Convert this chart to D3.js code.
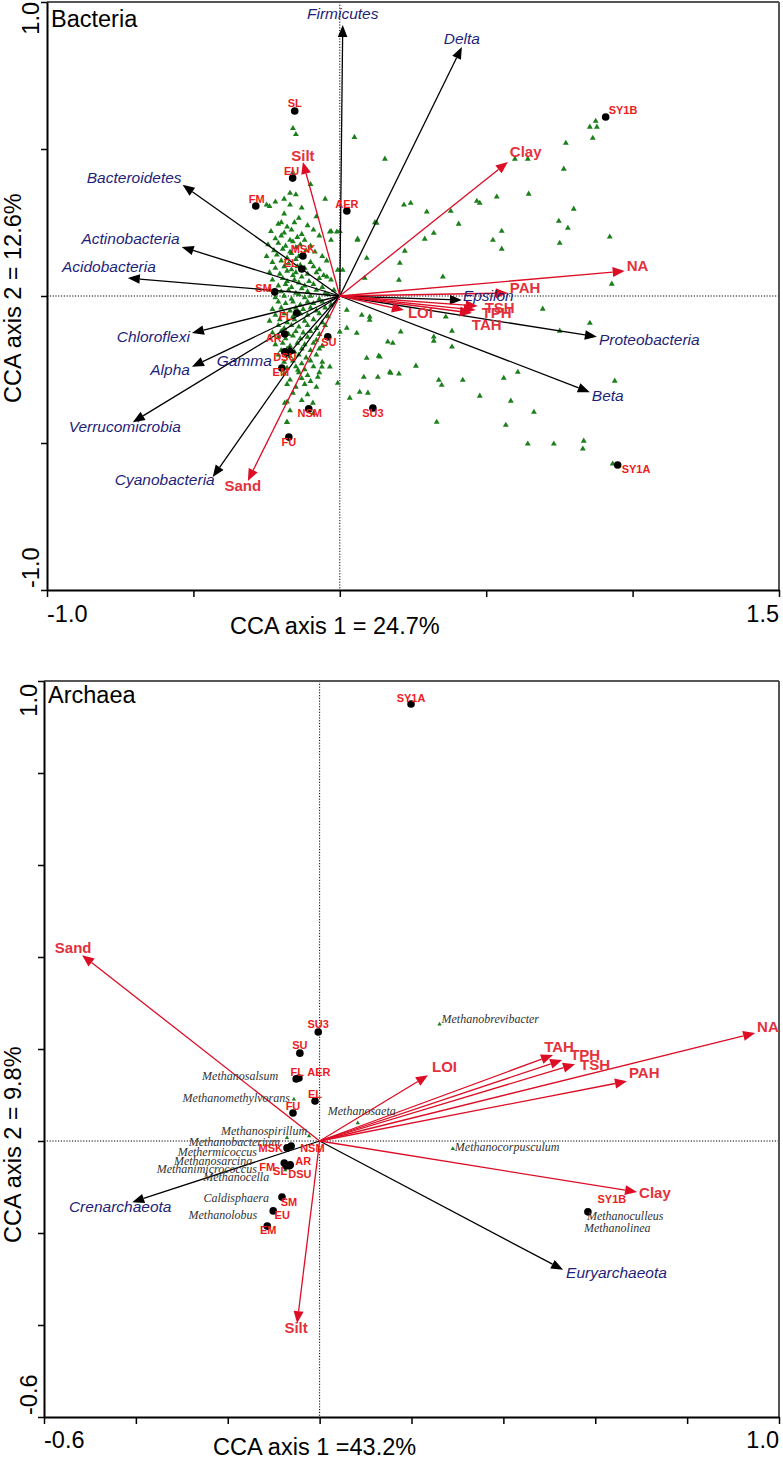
<!DOCTYPE html>
<html><head><meta charset="utf-8">
<script src="https://cdn.jsdelivr.net/npm/d3@7"></script>
<style>body{margin:0;background:#fff}svg{display:block}</style>
</head><body>
<svg id="c" width="783" height="1459"></svg>
<script>
// ================= DATA : Bacteria =================
const bacTaxa = [
  ["Firmicutes",0.010,0.922],["Delta",0.417,0.847],["Bacteroidetes",-0.537,0.378],
  ["Actinobacteria",-0.540,0.167],["Acidobacteria",-0.724,0.061],["Chloroflexi",-0.505,-0.126],
  ["Alpha",-0.505,-0.241],["Gamma",-0.188,-0.211],["Verrucomicrobia",-0.707,-0.429],
  ["Cyanobacteria",-0.434,-0.616],["Epsilon",0.417,-0.014],["Proteobacteria",0.878,-0.139],
  ["Beta",0.854,-0.327]
];
const bacEnv = [
  ["Silt",-0.126,0.456],["Clay",0.574,0.456],["NA",0.973,0.085],["PAH",0.574,0.010],
  ["TSH",0.471,-0.034],["TPH",0.464,-0.048],["TAH",0.451,-0.058],["LOI",0.219,-0.048],
  ["Sand",-0.314,-0.629]
];
const bacSites = [
  ["SL",-0.154,0.629],["EU",-0.161,0.401],["FM",-0.287,0.306],["AER",0.024,0.289],
  ["MSK",-0.126,0.136],["EL",-0.130,0.092],["SM",-0.222,0.014],["FL",-0.147,-0.058],
  ["AR",-0.188,-0.129],["DSU",-0.188,-0.190],["EM",-0.198,-0.245],["SU",-0.041,-0.139],
  ["NSM",-0.106,-0.384],["SU3",0.113,-0.381],["FU",-0.174,-0.480],["SY1B",0.908,0.609],
  ["SY1A",0.949,-0.575]
];
const bacSpeciesCore = [
  [-0.16,0.57],[-0.15,0.55],[0.05,0.54],[-0.16,0.42],[-0.10,0.38],[-0.17,0.35],[-0.15,0.345],[-0.19,0.33],
  [-0.22,0.32],[-0.25,0.31],[-0.24,0.305],[-0.05,0.33],[-0.08,0.27],[-0.19,0.28],[-0.03,0.22],[0.00,0.22],
  [-0.03,0.19],[0.06,0.19],[0.12,0.25],[-0.17,0.31],[-0.13,0.30],[-0.20,0.25],[-0.14,0.265],
  [-0.21,0.245],[-0.18,0.235],[-0.155,0.25],[-0.11,0.24],
  [-0.235,0.22],[-0.19,0.215],[-0.165,0.225],[-0.13,0.21],[-0.09,0.225],
  [-0.22,0.195],[-0.20,0.205],[-0.17,0.19],[-0.145,0.20],[-0.12,0.19],[-0.07,0.205],
  [-0.245,0.175],[-0.21,0.18],[-0.185,0.17],[-0.16,0.185],[-0.135,0.175],[-0.10,0.17],
  [-0.225,0.155],[-0.195,0.16],[-0.17,0.15],[-0.15,0.165],[-0.115,0.155],[-0.085,0.15],
  [-0.25,0.135],[-0.215,0.14],[-0.18,0.13],[-0.165,0.145],[-0.14,0.135],[-0.125,0.14],[-0.06,0.135],
  [-0.23,0.115],[-0.20,0.12],[-0.175,0.11],[-0.15,0.125],[-0.135,0.105],[-0.10,0.115],[-0.045,0.12],
  [-0.22,0.095],[-0.19,0.10],[-0.165,0.09],[-0.145,0.10],[-0.12,0.095],[-0.09,0.10],[-0.07,0.09],
  [-0.24,0.08],[-0.205,0.075],[-0.18,0.085],[-0.16,0.07],[-0.15,0.08],[-0.11,0.075],[-0.08,0.08],[-0.055,0.07],
  [-0.23,0.055],[-0.195,0.06],[-0.18,0.05],[-0.155,0.055],[-0.13,0.065],[-0.105,0.05],[-0.07,0.06],[-0.03,0.055],
  [-0.21,0.035],[-0.185,0.04],[-0.165,0.03],[-0.14,0.045],[-0.12,0.035],[-0.09,0.04],[-0.06,0.03],
  [-0.24,0.02],[-0.20,0.015],[-0.175,0.02],[-0.15,0.01],[-0.13,0.025],[-0.11,0.015],[-0.08,0.02],[-0.05,0.01],[-0.02,0.02],
  [-0.22,-0.005],[-0.19,0.00],[-0.165,-0.01],[-0.14,0.005],[-0.12,-0.005],[-0.10,0.00],[-0.07,-0.01],[-0.04,0.005],
  [-0.21,-0.02],[-0.185,-0.025],[-0.16,-0.02],[-0.135,-0.03],[-0.11,-0.02],[-0.09,-0.025],[-0.06,-0.02],[-0.03,-0.03],
  [-0.23,-0.045],[-0.20,-0.04],[-0.17,-0.05],[-0.15,-0.04],[-0.125,-0.045],[-0.10,-0.04],[-0.08,-0.05],[-0.05,-0.04],
  [-0.22,-0.065],[-0.19,-0.06],[-0.16,-0.07],[-0.135,-0.06],[-0.11,-0.065],[-0.07,-0.06],[-0.04,-0.07],
  [-0.24,-0.085],[-0.205,-0.08],[-0.18,-0.09],[-0.155,-0.08],[-0.12,-0.085],[-0.09,-0.08],[-0.06,-0.09],
  [-0.21,-0.10],[-0.19,-0.11],[-0.165,-0.10],[-0.14,-0.105],[-0.11,-0.10],[-0.08,-0.11],[-0.05,-0.10],
  [-0.23,-0.125],[-0.20,-0.12],[-0.175,-0.13],[-0.15,-0.12],[-0.125,-0.125],[-0.10,-0.12],[-0.07,-0.13],
  [-0.21,-0.14],[-0.185,-0.145],[-0.16,-0.135],[-0.135,-0.145],[-0.11,-0.14],[-0.08,-0.15],
  [-0.22,-0.165],[-0.195,-0.16],[-0.17,-0.17],[-0.145,-0.16],[-0.12,-0.165],[-0.09,-0.16],[-0.06,-0.17],
  [-0.20,-0.185],[-0.18,-0.18],[-0.155,-0.19],[-0.13,-0.18],[-0.10,-0.185],[-0.07,-0.18],
  [-0.21,-0.20],[-0.17,-0.205],[-0.14,-0.20],[-0.115,-0.21],[-0.08,-0.20],
  [-0.19,-0.225],[-0.16,-0.22],[-0.13,-0.23],[-0.10,-0.22],[-0.06,-0.225],
  [-0.18,-0.245],[-0.15,-0.24],[-0.12,-0.25],[-0.09,-0.24],
  [-0.19,-0.265],[-0.14,-0.26],[-0.11,-0.27],[-0.07,-0.26],
  [-0.17,-0.285],[-0.13,-0.28],[-0.10,-0.29],
  [-0.18,-0.30],[-0.15,-0.31],[-0.12,-0.30],[-0.08,-0.31],
  [-0.16,-0.33],[-0.11,-0.335],[-0.18,-0.36],[-0.13,-0.355],
  [-0.17,-0.39],[-0.11,-0.385],[-0.09,-0.40],[-0.18,-0.43]
];
const bacSpeciesOuter = [
  [0.154,0.466],[0.598,0.466],[0.642,0.466],[0.772,0.520],[0.854,0.575],[0.878,0.575],[0.874,0.595],[0.864,0.537],
  [0.765,0.432],[0.219,0.310],[0.242,0.316],[0.297,0.286],[0.379,0.289],[0.468,0.323],[0.478,0.316],[0.536,0.337],
  [0.645,0.347],[0.799,0.296],[0.406,0.245],[0.321,0.214],[0.290,0.194],[0.553,0.221],[0.523,0.190],[0.553,0.160],
  [0.748,0.255],[0.779,0.231],[0.751,0.180],[0.922,0.201],[0.222,0.153],[0.205,0.112],[0.202,0.054],[0.352,0.065],
  [0.929,0.041],[0.693,-0.044],[0.854,-0.092],[0.751,-0.119],[0.208,-0.122],[0.383,-0.119],[0.321,-0.139],[0.321,-0.153],
  [0.164,-0.156],[0.181,-0.160],[0.383,-0.173],[0.137,-0.207],[0.260,-0.238],[0.174,-0.262],[0.202,-0.265],[0.338,-0.286],
  [0.348,-0.303],[0.420,-0.286],[0.560,-0.279],[0.608,-0.259],[0.939,-0.289],[0.478,-0.340],[0.584,-0.357],[0.663,-0.395],
  [0.331,-0.429],[0.567,-0.439],[0.642,-0.503],[0.731,-0.503],[0.833,-0.493],[0.830,-0.520],[0.932,-0.571],[0.362,-0.071],
  [0.058,-0.126],[0.092,-0.211],[0.133,-0.204],[0.171,-0.259],[0.034,-0.347],[0.068,-0.327],[0.096,-0.330],[0.082,-0.276],
  [0.130,-0.276],[-0.007,-0.296],[-0.034,-0.241],[-0.061,-0.241],[-0.075,-0.276],[-0.092,-0.364],[-0.181,-0.429],[-0.188,-0.364],
  [-0.143,-0.252],[0.061,0.194],[0.092,0.129],[0.075,-0.065],[0.102,-0.082],[0.024,-0.048],[0.024,-0.109],[0.126,0.248],
  [-0.034,0.218],[-0.010,0.218],[0.010,0.088],[-0.007,0.088],[0.085,0.061],[-0.044,0.065],[0.102,-0.071],[0.000,-0.122]
];

// ================= DATA : Archaea =================
const arcTaxa = [["Crenarchaeota",-0.408,-0.133],["Euryarchaeota",0.530,-0.280]];
const arcEnv = [
  ["Sand",-0.517,0.404],["Silt",-0.049,-0.396],["LOI",0.236,0.143],["TAH",0.508,0.187],
  ["TPH",0.528,0.176],["TSH",0.556,0.167],["PAH",0.669,0.130],["NA",0.948,0.235],["Clay",0.691,-0.111]
];
const arcSites = [
  ["SY1A",0.199,0.950],["SU3",-0.003,0.237],["SU",-0.043,0.191],["FL",-0.051,0.135],["AER",-0.045,0.137],
  ["EL",-0.010,0.087],["FU",-0.058,0.061],["MSK",-0.071,-0.015],["NSM",-0.062,-0.011],["AR",-0.064,-0.052],
  ["FM",-0.077,-0.048],["SL",-0.073,-0.054],["DSU",-0.066,-0.054],["SM",-0.082,-0.122],["EU",-0.101,-0.152],
  ["EM",-0.114,-0.185],["SY1B",0.584,-0.154]
];
const arcSpecies = [
  ["Methanobrevibacter",0.261,0.254],["Methanosalsum",-0.049,0.133],["Methanomethylvorans",-0.056,0.091],
  ["Methanosaeta",0.083,0.039],["Methanospirillum",-0.023,0.011],["Methanobacterium",-0.071,0.007],
  ["Methermicoccus",-0.071,-0.020],["Methanosarcina",-0.075,-0.046],["Methanimicrococcus",-0.067,-0.052],
  ["Methanocella",-0.075,-0.063],["Caldisphaera",-0.082,-0.120],["Methanolobus",-0.101,-0.152],
  ["Methanocorpusculum",0.290,-0.017],["Methanoculleus",0.584,-0.157],["Methanolinea",0.584,-0.157]
];

// ================= LAYOUT (label anchor, dx, dy in px) =================
const bacTaxaLab = {Firmicutes:["middle",0,-6],Delta:["middle",0,-3],Bacteroidetes:["end",-1,-2],
  Actinobacteria:["end",-2,-3],Acidobacteria:["end",28,-6],Chloroflexi:["end",-2,9],Alpha:["end",-2,8],
  Gamma:["end",-13,8],Verrucomicrobia:["middle",-8,10],Cyanobacteria:["end",2,8],Epsilon:["start",1,1],
  Proteobacteria:["start",2,8],Beta:["start",2,9]};
const bacEnvLab = {Silt:["middle",0,-1],Clay:["start",2,-5],NA:["start",2,0],PAH:["start",2,0],
  TSH:["start",7,7],TPH:["start",6,8],TAH:["start",0,17],LOI:["start",4,8],Sand:["middle",-5,10]};
const bacSiteLab = {SL:["middle",0,-4],EU:["middle",-1,-3],FM:["middle",1,-3],AER:["middle",0,-3],
  MSK:["middle",0,-3],EL:["middle",-11,-2],SM:["end",-3,0],FL:["middle",-11,7],AR:["end",-3,8],
  DSU:["middle",0,9],EM:["middle",-1,8],SU:["middle",1,9],NSM:["middle",1,8],SU3:["middle",0,9],
  FU:["middle",0,9],SY1B:["start",3,-3],SY1A:["start",4,8]};
const arcTaxaLab = {Crenarchaeota:["middle",-12,10],Euryarchaeota:["start",3,8]};
const arcEnvLab = {Sand:["middle",-9,-2],Silt:["middle",-1,10],LOI:["start",4,-3],TAH:["middle",6,-3],
  TPH:["start",8,0],TSH:["start",5,6],PAH:["start",2,-3],NA:["start",2,-1],Clay:["start",2,6]};
const arcSiteLab = {SY1A:["middle",0,-2],SU3:["middle",0,-4],SU:["middle",0,-4],FL:["middle",1,-3],
  AER:["middle",20,-2],EL:["middle",0,-3],FU:["middle",0,-3],MSK:["end",-4,4],NSM:["start",9,6],
  AR:["start",5,0],FM:["end",-9,8],SL:["middle",-6,9],DSU:["start",-1,12],SM:["middle",7,9],
  EU:["middle",9,8],EM:["middle",1,8],SY1B:["middle",24,-9]};
const arcSpecLab = {Methanobrevibacter:["start",2,-1],Methanosalsum:["end",-19,0],Methanomethylvorans:["end",-4,3],
  Methanosaeta:["start",-30,-8],Methanospirillum:["end",-2,-1],Methanobacterium:["end",-7,8],
  Methermicoccus:["end",-30,6],Methanosarcina:["end",-33,3],Methanimicrococcus:["end",-32,8],
  Methanocella:["end",-16,11],Caldisphaera:["end",-13,6],Methanolobus:["end",-16,8],
  Methanocorpusculum:["start",2,2],Methanoculleus:["start",-1,7],Methanolinea:["start",-4,19]};

// ================= DRAWING =================
const SANS = "'Liberation Sans', Arial, Helvetica, sans-serif";
const SERIF = "'Liberation Serif', 'Times New Roman', serif";
const RED = "#dc0d25", RED_TXT = "#e3323c", SITE_RED = "#ee1c1c", NAVY = "#1f1f7a", GREEN = "#1b7f1b";
const svg = d3.select("#c");

function arrow(g, x0, y0, x1, y1, color, hl, hw) {
  const dx = x1 - x0, dy = y1 - y0, L = Math.hypot(dx, dy), ux = dx / L, uy = dy / L;
  const bx = x1 - ux * hl, by = y1 - uy * hl;
  g.append("line").attr("x1", x0).attr("y1", y0).attr("x2", bx).attr("y2", by)
    .attr("stroke", color).attr("stroke-width", 1.3);
  g.append("path").attr("d", `M${x1},${y1}L${bx - uy * hw},${by + ux * hw}L${bx + uy * hw},${by - ux * hw}Z`)
    .attr("fill", color);
}
function label(g, x, y, txt, lay, style) {
  const t = g.append("text").attr("x", x + lay[1]).attr("y", y + lay[2]).attr("text-anchor", lay[0]).text(txt);
  for (const k in style) t.attr(k, style[k]);
  return t;
}

function panel(o) {
  const g = svg.append("g");
  const x = d3.scaleLinear().domain(o.xd).range([o.left, o.right]);
  const y = d3.scaleLinear().domain(o.yd).range([o.bottom, o.top]);
  g.append("line").attr("x1", x(0)).attr("x2", x(0)).attr("y1", o.top).attr("y2", o.bottom)
    .attr("stroke", "#000").attr("stroke-width", 1).attr("stroke-dasharray", "1.2,1.6");
  g.append("line").attr("x1", o.left).attr("x2", o.right).attr("y1", y(0)).attr("y2", y(0))
    .attr("stroke", "#000").attr("stroke-width", 1).attr("stroke-dasharray", "1.2,1.6");
  g.append("line").attr("x1", o.left).attr("x2", o.right).attr("y1", o.top).attr("y2", o.top).attr("stroke", "#555").attr("stroke-width", 2);
  g.append("line").attr("x1", o.right).attr("x2", o.right).attr("y1", o.top).attr("y2", o.bottom).attr("stroke", "#555").attr("stroke-width", 2);
  const ax = g.append("g").attr("transform", `translate(0,${o.bottom})`)
    .call(d3.axisBottom(x).tickValues(o.xt).tickSize(7).tickSizeOuter(0).tickFormat(""));
  const ay = g.append("g").attr("transform", `translate(${o.left},0)`)
    .call(d3.axisLeft(y).tickValues(o.yt).tickSize(6).tickSizeOuter(0).tickFormat(""));
  [ax, ay].forEach(a => { a.select(".domain").attr("stroke", "#000").attr("stroke-width", 2);
    a.selectAll(".tick line").attr("stroke", "#000").attr("stroke-width", 1.5); });
  const big = {"font-family": SANS, "font-size": "23.5px", fill: "#000"};
  label(g, x(o.xd[0]), o.xlabY, o.xtl[0], ["start", 0, 0], big);
  label(g, x(o.xd[1]), o.xlabY, o.xtl[1], ["end", 0, 0], big);
  g.append("text").attr("transform", `translate(${o.ylabX},${y(o.yd[1]) + o.yEndPad}) rotate(-90)`)
    .attr("text-anchor", "end").text(o.ytl[1]).attr("font-family", SANS).attr("font-size", "23.5px");
  g.append("text").attr("transform", `translate(${o.ylabX},${y(o.yd[0]) - 2}) rotate(-90)`)
    .attr("text-anchor", "start").text(o.ytl[0]).attr("font-family", SANS).attr("font-size", "23.5px");
  label(g, o.xTitleX, o.xTitleY, o.xTitle, ["start", 0, 0], big);
  g.append("text").attr("transform", `translate(21,${o.yTitleStart}) rotate(-90)`)
    .attr("text-anchor", "start").text(o.yTitle).attr("font-family", SANS).attr("font-size", "23.5px");
  label(g, o.left + 4, o.nameY, o.name, ["start", 0, 0], big);

  const x0 = x(0), y0 = y(0);
  const tri = d3.symbol().type(d3.symbolTriangle).size(o.triSize);
  g.append("g").selectAll("path").data(o.species).join("path")
    .attr("d", tri).attr("fill", GREEN)
    .attr("transform", d => `translate(${x(d[d.length - 2])},${y(d[d.length - 1])})`);
  o.taxa.forEach(d => arrow(g, x0, y0, x(d[1]), y(d[2]), "#000", 12, 4.8));
  o.env.forEach(d => arrow(g, x0, y0, x(d[1]), y(d[2]), RED, 12, 5));
  g.append("g").selectAll("circle").data(o.sites).join("circle")
    .attr("cx", d => x(d[1])).attr("cy", d => y(d[2])).attr("r", 3.8).attr("fill", "#000");
  if (o.specLab) o.species.forEach(d => label(g, x(d[1]), y(d[2]), d[0], o.specLab[d[0]],
    {"font-family": SERIF, "font-style": "italic", "font-size": "12px", fill: "#333"}));
  o.taxa.forEach(d => label(g, x(d[1]), y(d[2]), d[0], o.taxaLab[d[0]],
    {"font-family": SANS, "font-style": "italic", "font-size": "15.5px", fill: NAVY}));
  o.env.forEach(d => label(g, x(d[1]), y(d[2]), d[0], o.envLab[d[0]],
    {"font-family": SANS, "font-weight": "bold", "font-size": "15px", fill: RED_TXT}));
  o.sites.forEach(d => label(g, x(d[1]), y(d[2]), d[0], o.siteLab[d[0]],
    {"font-family": SANS, "font-weight": "bold", "font-size": "11px", fill: SITE_RED}));
}

panel({
  name: "Bacteria", nameY: 27,
  left: 47, right: 779, top: 2, bottom: 590,
  xd: [-1, 1.5], yd: [-1, 1],
  xt: [-1, -0.5, 0, 0.5, 1, 1.5], yt: [-1, -0.5, 0, 0.5, 1],
  xtl: ["-1.0", "1.5"], ytl: ["-1.0", "1.0"],
  xlabY: 622, ylabX: 39, yEndPad: 0,
  xTitle: "CCA axis 1 = 24.7%", xTitleX: 230, xTitleY: 634,
  yTitle: "CCA axis 2 = 12.6%", yTitleStart: 403,
  species: bacSpeciesCore.concat(bacSpeciesOuter).map(d => ["", d[0], d[1]]),
  triSize: 15,
  taxa: bacTaxa, env: bacEnv, sites: bacSites,
  taxaLab: bacTaxaLab, envLab: bacEnvLab, siteLab: bacSiteLab
});

panel({
  name: "Archaea", nameY: 703,
  left: 44, right: 779, top: 681, bottom: 1417,
  xd: [-0.6, 1.0], yd: [-0.6, 1.0],
  xt: [-0.6, -0.4, -0.2, 0, 0.2, 0.4, 0.6, 0.8, 1.0], yt: [-0.6, -0.4, -0.2, 0, 0.2, 0.4, 0.6, 0.8, 1.0],
  xtl: ["-0.6", "1.0"], ytl: ["-0.6", "1.0"],
  xlabY: 1448, ylabX: 37, yEndPad: 3,
  xTitle: "CCA axis 1 =43.2%", xTitleX: 213, xTitleY: 1455,
  yTitle: "CCA axis 2 = 9.8%", yTitleStart: 1243,
  species: arcSpecies, specLab: arcSpecLab, triSize: 8,
  taxa: arcTaxa, env: arcEnv, sites: arcSites,
  taxaLab: arcTaxaLab, envLab: arcEnvLab, siteLab: arcSiteLab
});
</script>
</body></html>
